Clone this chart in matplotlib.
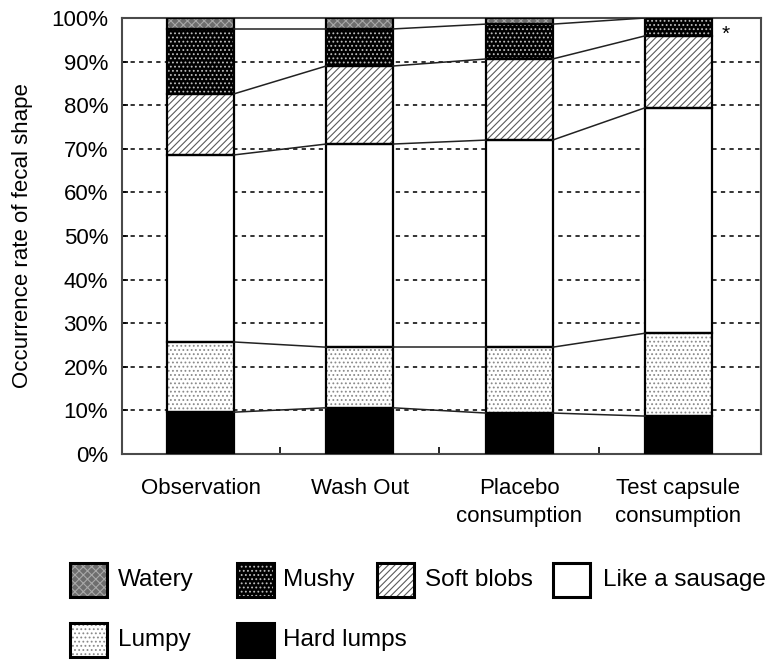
import numpy as np
import matplotlib.pyplot as plt
from matplotlib.patches import Rectangle

plt.rcParams['font.family'] = ['Liberation Sans', 'DejaVu Sans']
plt.rcParams['hatch.linewidth'] = 0.8

categories = ['Observation', 'Wash Out', 'Placebo\nconsumption', 'Test capsule\nconsumption']
# occurrence rate (%) of each stool type, bottom to top of the stack
hard_lumps = [9.6, 10.6, 9.4, 8.7]
lumpy = [16.1, 13.9, 15.1, 19.0]
like_sausage = [42.9, 46.6, 47.5, 51.7]
soft_blobs = [14.0, 17.9, 18.6, 16.5]
mushy = [14.9, 8.5, 8.0, 4.1]
watery = [2.5, 2.5, 1.4, 0.0]

names = ['Hard lumps', 'Lumpy', 'Like a sausage', 'Soft blobs', 'Mushy', 'Watery']
series = [hard_lumps, lumpy, like_sausage, soft_blobs, mushy, watery]
# face colour, hatch, hatch colour
styles = {
    'Hard lumps': ('black', '', 'black'),
    'Lumpy': ('white', '....', '#8a8a8a'),
    'Like a sausage': ('white', '', 'white'),
    'Soft blobs': ('white', '/////', '#5a5a5a'),
    'Mushy': ('black', '....', '#bdbdbd'),
    'Watery': ('#6e6e6e', 'xxxx', '#a8a8a8'),
}

fig = plt.figure(figsize=(7.74, 6.6), dpi=100)
ax = fig.add_axes([0.1576, 0.3121, 0.8254, 0.6606])

x = np.arange(len(categories))
w = 0.42
bottom = np.zeros(len(categories))
levels = []
for name, vals in zip(names, series):
    face, hatch, hc = styles[name]
    ax.bar(x, vals, w, bottom=bottom, color=face, hatch=hatch, edgecolor=hc,
           linewidth=0, zorder=2)
    ax.bar(x, vals, w, bottom=bottom, fill=False, edgecolor='black',
           linewidth=1.6, zorder=3)
    bottom = bottom + np.array(vals)
    levels.append(bottom.copy())

# lines joining the segment borders of neighbouring bars
for lvl in levels[:-1]:
    for i in range(len(x) - 1):
        ax.plot([x[i] + w / 2, x[i + 1] - w / 2], [lvl[i], lvl[i + 1]],
                color='#222222', lw=1.1, zorder=3)

ax.set_xlim(-0.493, 3.518)
ax.set_ylim(0, 100)
ax.set_yticks(np.arange(0, 101, 10))
ax.set_yticklabels(['%d%%' % v for v in range(0, 101, 10)], fontsize=16)
ax.set_xticks(x)
ax.set_xticklabels(categories, fontsize=16, linespacing=1.45, va='top')
ax.set_xticks([0.5, 1.5, 2.5], minor=True)
ax.tick_params(axis='x', which='major', length=0, pad=17)
ax.tick_params(axis='x', which='minor', direction='in', length=5, width=1.2)
ax.tick_params(axis='y', direction='in', length=4, width=1.2, pad=10)
ax.set_axisbelow(True)
ax.yaxis.grid(True, linestyle=(0, (2.2, 2.2)), color='#333333', lw=1.4, zorder=0)
for s in ax.spines.values():
    s.set_color('#4a4a4a')
    s.set_linewidth(1.5)

ax.set_ylabel('Occurrence rate of fecal shape', fontsize=16)
ax.yaxis.set_label_coords(-0.14, 0.5)
ax.text(3.30, 96.3, '*', fontsize=15, ha='center', va='center')

# legend drawn in pixel coordinates
lax = fig.add_axes([0, 0, 1, 1])
lax.set_xlim(0, 774)
lax.set_ylim(660, 0)
lax.axis('off')
legend_items = [('Watery', 70, 118, 580), ('Mushy', 237, 283, 580),
                ('Soft blobs', 377, 425, 580), ('Like a sausage', 553, 603, 580),
                ('Lumpy', 70, 118, 640), ('Hard lumps', 237, 283, 640)]
for name, px, tx, cy in legend_items:
    face, hatch, hc = styles[name]
    lax.add_patch(Rectangle((px, cy - 17), 37, 34, facecolor=face, hatch=hatch,
                            edgecolor=hc, linewidth=0))
    lax.add_patch(Rectangle((px, cy - 17), 37, 34, fill=False, edgecolor='black',
                            linewidth=2.2))
    lax.text(tx, cy, name, fontsize=17.5, va='center', ha='left')

plt.savefig('out.png', dpi=100)
